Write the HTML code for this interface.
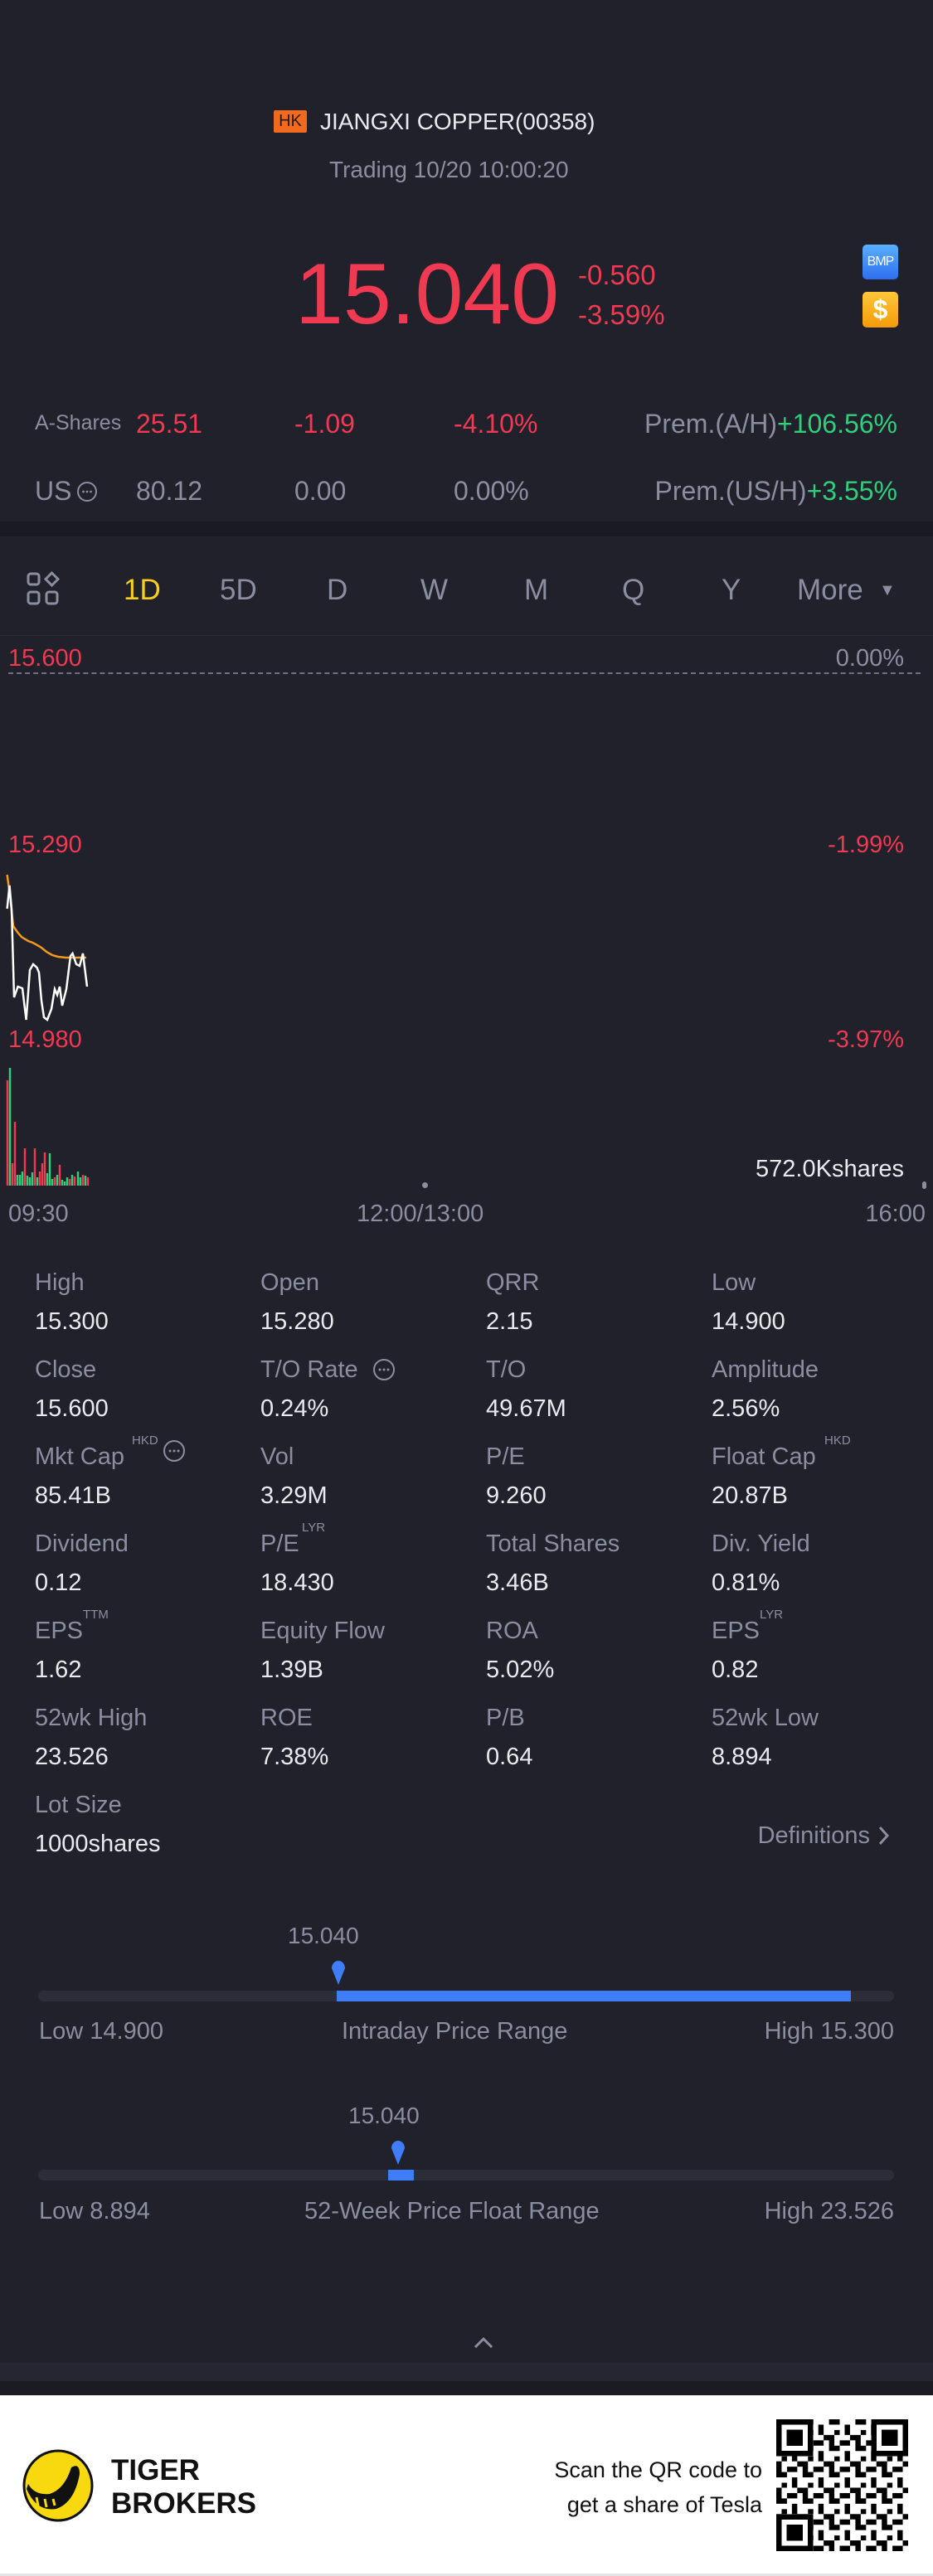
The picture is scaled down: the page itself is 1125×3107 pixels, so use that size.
<!DOCTYPE html>
<html><head><meta charset="utf-8">
<style>
html,body{margin:0;padding:0}
body{width:1125px;height:3107px;background:#20212a;position:relative;overflow:hidden;font-family:"Liberation Sans","DejaVu Sans",sans-serif;color:#8b8ea1}
.t{position:absolute;line-height:1;white-space:nowrap}
.r{color:#ef3a52}.g{color:#2fcf7c}.w{color:#e9eaee}
.lab{font-size:29px;color:#8b8ea1}
.val{font-size:29px;color:#e9eaee}
.sup{font-size:15px;color:#8b8ea1}
.ic{position:absolute}
</style></head><body>

<!-- header -->
<div style="position:absolute;left:330px;top:133px;width:40px;height:27px;background:#f26a1f;border-radius:2px;color:#2a1a10;font-size:20px;line-height:27px;text-align:center">HK</div>
<div class="t w" style="left:386px;top:133px;font-size:28px">JIANGXI COPPER(00358)</div>
<div class="t" style="left:397px;top:191px;font-size:28px;color:#8b8ea1">Trading 10/20 10:00:20</div>

<div class="t r" style="left:356px;top:303px;font-size:104px">15.040</div>
<div class="t r" style="left:697px;top:315px;font-size:33px">-0.560</div>
<div class="t r" style="left:697px;top:363px;font-size:33px">-3.59%</div>
<div style="position:absolute;left:1040px;top:295px;width:43px;height:42px;border-radius:5px;background:linear-gradient(#5ab0ff,#2f6ef0);color:#fff;font-size:16px;line-height:42px;text-align:center;letter-spacing:-1px">BMP</div>
<div style="position:absolute;left:1040px;top:352px;width:43px;height:43px;border-radius:5px;background:linear-gradient(#ffc83a,#f59a0a);color:#fff;font-size:32px;font-weight:bold;line-height:43px;text-align:center">$</div>

<div class="t" style="left:42px;top:498px;font-size:25px">A-Shares</div>
<div class="t r" style="left:164px;top:495px;font-size:32px">25.51</div>
<div class="t r" style="left:355px;top:495px;font-size:32px">-1.09</div>
<div class="t r" style="left:547px;top:495px;font-size:32px">-4.10%</div>
<div class="t" style="right:43px;top:495px;font-size:32px">Prem.(A/H)<span class="g">+106.56%</span></div>

<div class="t" style="left:42px;top:576px;font-size:32px">US</div>
<svg class="ic" style="left:92px;top:580px" width="26" height="26"><circle cx="13" cy="13" r="11" fill="none" stroke="#8b8ea1" stroke-width="2"/><circle cx="8.5" cy="13" r="1.4" fill="#8b8ea1"/><circle cx="13" cy="13" r="1.4" fill="#8b8ea1"/><circle cx="17.5" cy="13" r="1.4" fill="#8b8ea1"/></svg>
<div class="t" style="left:164px;top:576px;font-size:32px">80.12</div>
<div class="t" style="left:355px;top:576px;font-size:32px">0.00</div>
<div class="t" style="left:547px;top:576px;font-size:32px">0.00%</div>
<div class="t" style="right:43px;top:576px;font-size:32px">Prem.(US/H)<span class="g">+3.55%</span></div>

<div style="position:absolute;left:0;top:629px;width:1125px;height:18px;background:#1a1b22"></div>

<!-- tabs -->
<svg style="position:absolute;left:32px;top:689px" width="44" height="42">
<g fill="none" stroke="#8b8ea1" stroke-width="3">
<rect x="2" y="3" width="13" height="13" rx="3"/><rect x="2" y="25" width="13" height="14" rx="3"/><rect x="24" y="25" width="13" height="14" rx="3"/>
<path d="M30.5 2 L38 9.5 L30.5 17 L23 9.5 Z"/></g></svg>
<div class="t" style="left:149px;top:694px;font-size:35px;color:#f7cf1d">1D</div>
<div class="t" style="left:265px;top:694px;font-size:35px">5D</div>
<div class="t" style="left:394px;top:694px;font-size:35px">D</div>
<div class="t" style="left:507px;top:694px;font-size:35px">W</div>
<div class="t" style="left:632px;top:694px;font-size:35px">M</div>
<div class="t" style="left:750px;top:694px;font-size:35px">Q</div>
<div class="t" style="left:870px;top:694px;font-size:35px">Y</div>
<div class="t" style="left:961px;top:694px;font-size:35px">More</div>
<div class="t" style="left:1060px;top:702px;font-size:20px">▼</div>
<div style="position:absolute;left:0;top:766px;width:1125px;height:1px;background:#2b2c36"></div>

<!-- chart -->
<div class="t r" style="left:10px;top:780px;font-size:29px">15.600</div>
<div class="t" style="right:35px;top:780px;font-size:29px">0.00%</div>
<div style="position:absolute;left:10px;top:811px;width:1100px;border-top:2px dashed #6e7184"></div>
<div class="t r" style="left:10px;top:1005px;font-size:29px">15.290</div>
<div class="t r" style="right:35px;top:1005px;font-size:29px">-1.99%</div>
<div class="t r" style="left:10px;top:1240px;font-size:29px">14.980</div>
<div class="t r" style="right:35px;top:1240px;font-size:29px">-3.97%</div>

<svg style="position:absolute;left:0;top:1040px" width="120" height="400">
<polyline fill="none" stroke="#f39a1e" stroke-width="2.5" points="8.6,15 12,40 16,77 21.5,85 26,90 29,92 34,95 39.5,97 45,100 50,103 56,108 63,112 70,114 79,115 104,115"/>
<polyline fill="none" stroke="#ffffff" stroke-width="2.5" points="8.6,56 11.5,28 14,57 17,163 21.5,150 27,152 31.6,190 36,130 40,123 44.5,127 47,133 50,167 53,187 57,190 62,177 66,153 69,160 72,150 75,173 80,153 85,113 87.5,110 92,123 96,125 100,110 105,150"/>
</svg>
<svg style="position:absolute;left:0;top:1280px" width="120" height="155">
<g stroke-width="2.4">
<line x1="9" y1="150" x2="9" y2="23" stroke="#ef3a52"/>
<line x1="12" y1="150" x2="12" y2="8" stroke="#2fcf7c"/>
<line x1="15" y1="150" x2="15" y2="123" stroke="#ef3a52"/>
<line x1="18" y1="150" x2="18" y2="73" stroke="#ef3a52"/>
<line x1="21" y1="150" x2="21" y2="137" stroke="#2fcf7c"/>
<line x1="24" y1="150" x2="24" y2="137" stroke="#2fcf7c"/>
<line x1="27" y1="150" x2="27" y2="133" stroke="#2fcf7c"/>
<line x1="30" y1="150" x2="30" y2="105" stroke="#ef3a52"/>
<line x1="33" y1="150" x2="33" y2="138" stroke="#2fcf7c"/>
<line x1="36" y1="150" x2="36" y2="140" stroke="#2fcf7c"/>
<line x1="39" y1="150" x2="39" y2="134" stroke="#2fcf7c"/>
<line x1="42" y1="150" x2="42" y2="105" stroke="#ef3a52"/>
<line x1="45" y1="150" x2="45" y2="140" stroke="#2fcf7c"/>
<line x1="48" y1="150" x2="48" y2="133" stroke="#ef3a52"/>
<line x1="51" y1="150" x2="51" y2="123" stroke="#ef3a52"/>
<line x1="54" y1="150" x2="54" y2="110" stroke="#ef3a52"/>
<line x1="57" y1="150" x2="57" y2="135" stroke="#2fcf7c"/>
<line x1="60" y1="150" x2="60" y2="111" stroke="#2fcf7c"/>
<line x1="63" y1="150" x2="63" y2="142" stroke="#2fcf7c"/>
<line x1="66" y1="150" x2="66" y2="140" stroke="#ef3a52"/>
<line x1="69" y1="150" x2="69" y2="137" stroke="#2fcf7c"/>
<line x1="72" y1="150" x2="72" y2="125" stroke="#ef3a52"/>
<line x1="75" y1="150" x2="75" y2="143" stroke="#2fcf7c"/>
<line x1="78" y1="150" x2="78" y2="145" stroke="#2fcf7c"/>
<line x1="81" y1="150" x2="81" y2="140" stroke="#2fcf7c"/>
<line x1="84" y1="150" x2="84" y2="142" stroke="#ef3a52"/>
<line x1="87" y1="150" x2="87" y2="137" stroke="#2fcf7c"/>
<line x1="90" y1="150" x2="90" y2="139" stroke="#ef3a52"/>
<line x1="94" y1="150" x2="94" y2="133" stroke="#2fcf7c"/>
<line x1="97" y1="150" x2="97" y2="140" stroke="#2fcf7c"/>
<line x1="100" y1="150" x2="100" y2="137" stroke="#ef3a52"/>
<line x1="103" y1="150" x2="103" y2="138" stroke="#2fcf7c"/>
<line x1="106" y1="150" x2="106" y2="140" stroke="#ef3a52"/>
</g></svg>
<div class="t w" style="right:35px;top:1396px;font-size:29px">572.0Kshares</div>
<div style="position:absolute;left:509px;top:1426px;width:7px;height:7px;border-radius:50%;background:#8b8ea1"></div>
<div style="position:absolute;left:1112px;top:1425px;width:5px;height:9px;border-radius:3px;background:#8b8ea1"></div>
<div class="t" style="left:10px;top:1450px;font-size:29px">09:30</div>
<div class="t" style="left:430px;top:1450px;font-size:29px">12:00/13:00</div>
<div class="t" style="right:9px;top:1450px;font-size:29px">16:00</div>

<!-- stats -->
<div class="t lab" style="left:42px;top:1533px">High</div><div class="t val" style="left:42px;top:1580px">15.300</div>
<div class="t lab" style="left:314px;top:1533px">Open</div><div class="t val" style="left:314px;top:1580px">15.280</div>
<div class="t lab" style="left:586px;top:1533px">QRR</div><div class="t val" style="left:586px;top:1580px">2.15</div>
<div class="t lab" style="left:858px;top:1533px">Low</div><div class="t val" style="left:858px;top:1580px">14.900</div>

<div class="t lab" style="left:42px;top:1638px">Close</div><div class="t val" style="left:42px;top:1685px">15.600</div>
<div class="t lab" style="left:314px;top:1638px">T/O Rate</div>
<svg class="ic" style="left:449px;top:1638px" width="28" height="28"><circle cx="14" cy="14" r="12" fill="none" stroke="#8b8ea1" stroke-width="2"/><circle cx="9" cy="14" r="1.5" fill="#8b8ea1"/><circle cx="14" cy="14" r="1.5" fill="#8b8ea1"/><circle cx="19" cy="14" r="1.5" fill="#8b8ea1"/></svg>
<div class="t val" style="left:314px;top:1685px">0.24%</div>
<div class="t lab" style="left:586px;top:1638px">T/O</div><div class="t val" style="left:586px;top:1685px">49.67M</div>
<div class="t lab" style="left:858px;top:1638px">Amplitude</div><div class="t val" style="left:858px;top:1685px">2.56%</div>

<div class="t lab" style="left:42px;top:1743px">Mkt Cap</div><div class="t sup" style="left:159px;top:1730px">HKD</div>
<svg class="ic" style="left:196px;top:1736px" width="28" height="28"><circle cx="14" cy="14" r="12" fill="none" stroke="#8b8ea1" stroke-width="2"/><circle cx="9" cy="14" r="1.5" fill="#8b8ea1"/><circle cx="14" cy="14" r="1.5" fill="#8b8ea1"/><circle cx="19" cy="14" r="1.5" fill="#8b8ea1"/></svg>
<div class="t val" style="left:42px;top:1790px">85.41B</div>
<div class="t lab" style="left:314px;top:1743px">Vol</div><div class="t val" style="left:314px;top:1790px">3.29M</div>
<div class="t lab" style="left:586px;top:1743px">P/E</div><div class="t val" style="left:586px;top:1790px">9.260</div>
<div class="t lab" style="left:858px;top:1743px">Float Cap</div><div class="t sup" style="left:994px;top:1730px">HKD</div><div class="t val" style="left:858px;top:1790px">20.87B</div>

<div class="t lab" style="left:42px;top:1848px">Dividend</div><div class="t val" style="left:42px;top:1895px">0.12</div>
<div class="t lab" style="left:314px;top:1848px">P/E</div><div class="t sup" style="left:364px;top:1835px">LYR</div><div class="t val" style="left:314px;top:1895px">18.430</div>
<div class="t lab" style="left:586px;top:1848px">Total Shares</div><div class="t val" style="left:586px;top:1895px">3.46B</div>
<div class="t lab" style="left:858px;top:1848px">Div. Yield</div><div class="t val" style="left:858px;top:1895px">0.81%</div>

<div class="t lab" style="left:42px;top:1953px">EPS</div><div class="t sup" style="left:100px;top:1940px">TTM</div><div class="t val" style="left:42px;top:2000px">1.62</div>
<div class="t lab" style="left:314px;top:1953px">Equity Flow</div><div class="t val" style="left:314px;top:2000px">1.39B</div>
<div class="t lab" style="left:586px;top:1953px">ROA</div><div class="t val" style="left:586px;top:2000px">5.02%</div>
<div class="t lab" style="left:858px;top:1953px">EPS</div><div class="t sup" style="left:916px;top:1940px">LYR</div><div class="t val" style="left:858px;top:2000px">0.82</div>

<div class="t lab" style="left:42px;top:2058px">52wk High</div><div class="t val" style="left:42px;top:2105px">23.526</div>
<div class="t lab" style="left:314px;top:2058px">ROE</div><div class="t val" style="left:314px;top:2105px">7.38%</div>
<div class="t lab" style="left:586px;top:2058px">P/B</div><div class="t val" style="left:586px;top:2105px">0.64</div>
<div class="t lab" style="left:858px;top:2058px">52wk Low</div><div class="t val" style="left:858px;top:2105px">8.894</div>

<div class="t lab" style="left:42px;top:2163px">Lot Size</div><div class="t val" style="left:42px;top:2210px">1000shares</div>
<div class="t lab" style="right:76px;top:2200px">Definitions</div>
<svg style="position:absolute;left:1058px;top:2201px" width="16" height="26"><path d="M3 3 L12 13 L3 23" fill="none" stroke="#8b8ea1" stroke-width="3"/></svg>

<!-- ranges -->
<div class="t" style="left:347px;top:2321px;font-size:28px">15.040</div>
<svg style="position:absolute;left:398px;top:2362px" width="20" height="34"><path d="M10 32 L2 12 A8 9 0 1 1 18 12 Z" fill="#3f7df6"/></svg>
<div style="position:absolute;left:46px;top:2401px;width:1032px;height:13px;border-radius:7px;background:#2b2d39"></div>
<div style="position:absolute;left:406px;top:2401px;width:620px;height:13px;background:#3f7df6"></div>
<div class="t" style="left:47px;top:2436px;font-size:29px">Low 14.900</div>
<div class="t" style="left:412px;top:2436px;font-size:29px">Intraday Price Range</div>
<div class="t" style="right:47px;top:2436px;font-size:29px">High 15.300</div>

<div class="t" style="left:420px;top:2538px;font-size:28px">15.040</div>
<svg style="position:absolute;left:470px;top:2579px" width="20" height="34"><path d="M10 32 L2 12 A8 9 0 1 1 18 12 Z" fill="#3f7df6"/></svg>
<div style="position:absolute;left:46px;top:2617px;width:1032px;height:13px;border-radius:7px;background:#2b2d39"></div>
<div style="position:absolute;left:468px;top:2617px;width:31px;height:13px;background:#3f7df6"></div>
<div class="t" style="left:47px;top:2653px;font-size:29px">Low 8.894</div>
<div class="t" style="left:367px;top:2653px;font-size:29px">52-Week Price Float Range</div>
<div class="t" style="right:47px;top:2653px;font-size:29px">High 23.526</div>

<svg style="position:absolute;left:570px;top:2816px" width="26" height="18"><path d="M3 15 L13 5 L23 15" fill="none" stroke="#8b8ea1" stroke-width="3"/></svg>

<div style="position:absolute;left:0;top:2850px;width:1125px;height:22px;background:#252631"></div>
<div style="position:absolute;left:0;top:2872px;width:1125px;height:17px;background:#1b1c23"></div>

<!-- footer -->
<div style="position:absolute;left:0;top:2889px;width:1125px;height:218px;background:#ffffff"></div>
<div style="position:absolute;left:0;top:3104px;width:1125px;height:3px;background:#e4e4e6"></div>
<svg style="position:absolute;left:24px;top:2952px" width="92" height="92">
<ellipse cx="46" cy="46" rx="41" ry="42" fill="#f8d80e" stroke="#111" stroke-width="3"/>
<path d="M8 50 Q20 78 44 74 Q66 66 72 32 Q72 18 62 24 Q54 50 36 56 Q18 58 10 44 Z" fill="#111"/>
<path d="M20 60 L22 70 M30 62 L32 72 M40 62 L42 70" stroke="#f8d80e" stroke-width="3"/>
</svg>
<div class="t" style="left:134px;top:2962px;font-size:35px;font-weight:bold;color:#111">TIGER</div>
<div class="t" style="left:134px;top:3002px;font-size:35px;font-weight:bold;color:#111">BROKERS</div>
<div class="t" style="right:206px;top:2966px;font-size:27px;color:#111">Scan the QR code to</div>
<div class="t" style="right:206px;top:3008px;font-size:27px;color:#111">get a share of Tesla</div>
<svg style="position:absolute;left:936px;top:2918px" width="159" height="159" viewBox="0 0 25 25" shape-rendering="crispEdges">
<defs><pattern id="q" width="5" height="5" patternUnits="userSpaceOnUse">
<rect x="0" y="0" width="2" height="1" fill="#000"/><rect x="3" y="1" width="1" height="2" fill="#000"/><rect x="1" y="2" width="1" height="1" fill="#000"/><rect x="0" y="3" width="1" height="2" fill="#000"/><rect x="2" y="4" width="2" height="1" fill="#000"/><rect x="4" y="3" width="1" height="1" fill="#000"/></pattern></defs>
<rect width="25" height="25" fill="url(#q)"/>
<g><rect x="0" y="0" width="7" height="7" fill="#000"/><rect x="1" y="1" width="5" height="5" fill="#fff"/><rect x="2" y="2" width="3" height="3" fill="#000"/>
<rect x="18" y="0" width="7" height="7" fill="#000"/><rect x="19" y="1" width="5" height="5" fill="#fff"/><rect x="20" y="2" width="3" height="3" fill="#000"/>
<rect x="0" y="18" width="7" height="7" fill="#000"/><rect x="1" y="19" width="5" height="5" fill="#fff"/><rect x="2" y="20" width="3" height="3" fill="#000"/></g>
</svg>
</body></html>
